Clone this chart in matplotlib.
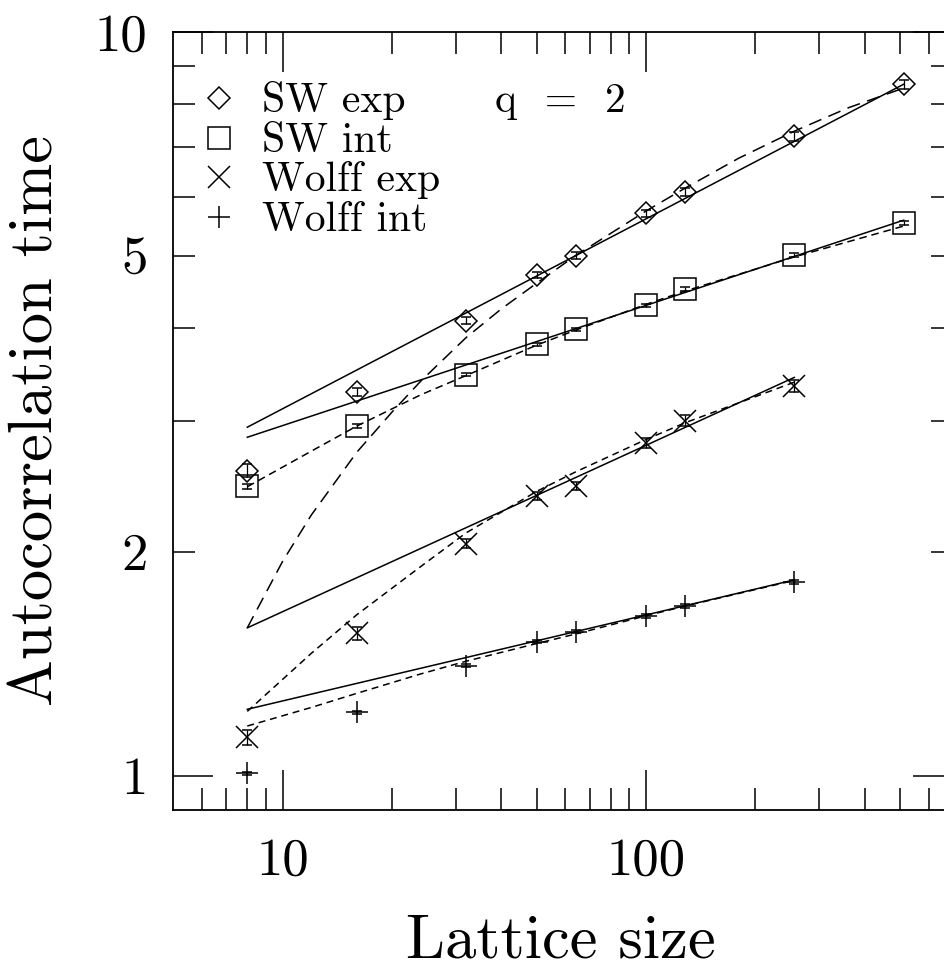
import matplotlib
matplotlib.use("Agg")
import matplotlib.pyplot as plt
from matplotlib.ticker import FixedLocator, FixedFormatter, NullFormatter

plt.rcParams['font.family'] = ['cmr10', 'DejaVu Serif']
plt.rcParams['lines.scale_dashes'] = False

# ---- measured autocorrelation times (q = 2) ----
L_sw = [8, 16, 32, 50, 64, 100, 128, 256, 512]
sw_exp = [2.57, 3.28, 4.09, 4.71, 5.00, 5.70, 6.09, 7.23, 8.50]
sw_exp_err = [0.05, 0.04, 0.04, 0.05, 0.05, 0.06, 0.07, 0.09, 0.12]
sw_int = [2.45, 2.95, 3.46, 3.80, 3.98, 4.29, 4.51, 5.01, 5.53]
sw_int_err = [0.02, 0.02, 0.02, 0.02, 0.02, 0.02, 0.03, 0.03, 0.03]

L_wolff = [8, 16, 32, 50, 64, 100, 128, 256]
wolff_exp = [1.126, 1.553, 2.05, 2.378, 2.452, 2.80, 3.00, 3.34]
wolff_exp_err = [0.027, 0.03, 0.03, 0.03, 0.03, 0.04, 0.05, 0.06]
wolff_int = [1.007, 1.217, 1.405, 1.514, 1.561, 1.639, 1.692, 1.82]
wolff_int_err = [0.005, 0.005, 0.006, 0.007, 0.008, 0.009, 0.010, 0.012]

# ---- pure power-law fits (straight lines in log-log) ----
fit_sw_L = [8, 512]
fit_sw_exp = [2.94, 8.50]
fit_sw_int = [2.85, 5.58]
fit_wolff_L = [8, 256]
fit_wolff_exp = [1.58, 3.43]
fit_wolff_int = [1.228, 1.833]

# ---- fits with corrections to scaling ----
corr_sw_exp_L = [8, 10, 12, 16, 20, 24, 32, 40, 50, 64, 100, 128, 180, 256, 360, 512]
corr_sw_exp = [1.58, 1.94, 2.24, 2.72, 3.08, 3.39, 3.88, 4.24, 4.59, 5.00, 5.74,
               6.16, 6.76, 7.35, 7.90, 8.40]
corr_sw_int_L = [8, 12, 16, 24, 32, 50, 64, 100, 128, 256, 512]
corr_sw_int = [2.445, 2.73, 2.95, 3.25, 3.45, 3.79, 3.97, 4.30, 4.48, 4.98, 5.48]
corr_wolff_exp_L = [8, 12, 16, 24, 32, 50, 64, 100, 128, 256]
corr_wolff_exp = [1.22, 1.46, 1.645, 1.91, 2.12, 2.41, 2.56, 2.83, 2.98, 3.38]
corr_wolff_int_L = [8, 12, 16, 24, 32, 50, 64, 100, 128, 256]
corr_wolff_int = [1.166, 1.235, 1.29, 1.37, 1.425, 1.505, 1.55, 1.64, 1.69, 1.83]

# ---- axes ticks and labels ----
x_major = [10, 100]
x_major_labels = ['10', '100']
x_minor = [6, 7, 8, 9, 20, 30, 40, 50, 60, 70, 80, 90, 200, 300, 400, 500, 600]
y_major = [1, 10]
y_major_labels = ['1', '10']
y_minor = [2, 3, 4, 5, 6, 7, 8, 9]
y_minor_labels = ['2', '', '', '5', '', '', '', '']

legend_labels = ['SW exp', 'SW int', 'Wolff exp', 'Wolff int']
legend_markers = ['D', 's', 'x', '+']
legend_sizes = [10.7, 15.5, 16, 16]

fig = plt.figure(figsize=(9.45, 9.69), dpi=100)
ax = fig.add_axes([0.18317, 0.16440, 0.82540, 0.80289])
ax.set_xscale('log')
ax.set_yscale('log')
ax.set_xlim(5, 700)
ax.set_ylim(0.9, 10)

lw = 1.1
k = 'black'

# fit lines
ax.plot(fit_sw_L, fit_sw_exp, color=k, lw=lw)
ax.plot(fit_sw_L, fit_sw_int, color=k, lw=lw)
ax.plot(fit_wolff_L, fit_wolff_exp, color=k, lw=lw)
ax.plot(fit_wolff_L, fit_wolff_int, color=k, lw=lw)

ax.plot(corr_sw_exp_L, corr_sw_exp, color=k, lw=lw, dashes=(9.5, 5.5))
ax.plot(corr_sw_int_L, corr_sw_int, color=k, lw=lw, dashes=(5.5, 3.5))
ax.plot(corr_wolff_exp_L, corr_wolff_exp, color=k, lw=lw, dashes=(5.0, 3.5))
ax.plot(corr_wolff_int_L, corr_wolff_int, color=k, lw=lw, dashes=(5.0, 3.5))

# data points with error bars
series = [
    (L_sw, sw_exp, sw_exp_err),
    (L_sw, sw_int, sw_int_err),
    (L_wolff, wolff_exp, wolff_exp_err),
    (L_wolff, wolff_int, wolff_int_err),
]
for (xs, ys, es), m, ms in zip(series, legend_markers, legend_sizes):
    ax.errorbar(xs, ys, yerr=es, fmt=m, ms=ms, mfc='none', mec=k, mew=1.1,
                ecolor=k, elinewidth=0.9, capsize=3.5, capthick=0.9, color=k)

# ticks
ax.xaxis.set_major_locator(FixedLocator(x_major))
ax.xaxis.set_major_formatter(FixedFormatter(x_major_labels))
ax.xaxis.set_minor_locator(FixedLocator(x_minor))
ax.xaxis.set_minor_formatter(NullFormatter())
ax.yaxis.set_major_locator(FixedLocator(y_major))
ax.yaxis.set_major_formatter(FixedFormatter(y_major_labels))
ax.yaxis.set_minor_locator(FixedLocator(y_minor))
ax.yaxis.set_minor_formatter(FixedFormatter(y_minor_labels))

ax.tick_params(which='both', direction='in', top=True, right=True,
               width=1.1, color=k, labelsize=38)
ax.tick_params(which='major', length=28.8)
ax.tick_params(which='minor', length=15.6)
ax.tick_params(axis='y', which='both', pad=18.5)
ax.tick_params(axis='x', which='both', pad=20)
for sp in ax.spines.values():
    sp.set_linewidth(1.3)

# axis titles
fig.text(0.0389, 1 - 420.7 / 969, 'Autocorrelation time', rotation=90,
         ha='center', va='center', fontsize=45)
fig.text(561 / 945, 1 - 958 / 969, 'Lattice size', ha='center',
         va='baseline', fontsize=45)

# legend
row_y = [0.9147, 0.8633, 0.8132, 0.7618]
base_off = 14.0 / 778
for lab, m, ms, yy in zip(legend_labels, legend_markers, legend_sizes, row_y):
    ax.plot([0.0592], [yy], marker=m, ms=ms, mfc='none', mec=k, mew=1.1,
            transform=ax.transAxes, clip_on=False, ls='none')
    ax.text(0.1136, yy - base_off, lab, transform=ax.transAxes,
            fontsize=30, va='baseline', ha='left')
ax.text((495 - 173.1) / 780, row_y[0] - base_off, 'q  =  2',
        transform=ax.transAxes, fontsize=30, va='baseline', ha='left')

fig.savefig('out.png', dpi=100, facecolor='white')
